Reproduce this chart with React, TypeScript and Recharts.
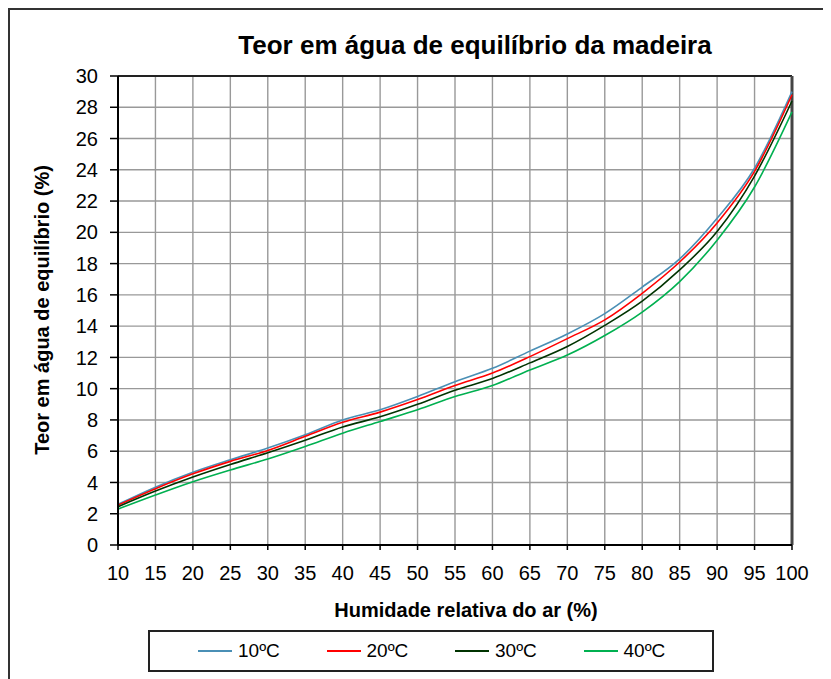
import React from 'react';
import { LineChart, Line, XAxis, YAxis, CartesianGrid, Legend, ReferenceLine } from 'recharts';

const humidity = [10, 15, 20, 25, 30, 35, 40, 45, 50, 55, 60, 65, 70, 75, 80, 85, 90, 95, 100];
const t10 = [2.6, 3.7, 4.65, 5.45, 6.2, 7.05, 8.0, 8.65, 9.5, 10.45, 11.3, 12.4, 13.5, 14.8, 16.5, 18.3, 20.9, 24.1, 29.0];
const t20 = [2.55, 3.6, 4.55, 5.35, 6.05, 6.95, 7.85, 8.5, 9.3, 10.2, 11.0, 12.05, 13.2, 14.4, 16.1, 18.1, 20.6, 23.9, 28.8];
const t30 = [2.45, 3.45, 4.35, 5.15, 5.9, 6.7, 7.55, 8.2, 9.0, 9.9, 10.65, 11.65, 12.7, 14.05, 15.6, 17.6, 20.05, 23.6, 28.4];
const t40 = [2.3, 3.2, 4.05, 4.8, 5.5, 6.3, 7.15, 7.9, 8.65, 9.5, 10.2, 11.2, 12.15, 13.4, 14.9, 16.85, 19.5, 22.9, 27.7];

const xTicks = [10, 15, 20, 25, 30, 35, 40, 45, 50, 55, 60, 65, 70, 75, 80, 85, 90, 95, 100];
const yTicks = [0, 2, 4, 6, 8, 10, 12, 14, 16, 18, 20, 22, 24, 26, 28, 30];

const series = [
  { key: 't10', name: '10ºC', color: '#4a8fb5', values: t10 },
  { key: 't20', name: '20ºC', color: '#ff0000', values: t20 },
  { key: 't30', name: '30ºC', color: '#003300', values: t30 },
  { key: 't40', name: '40ºC', color: '#00b050', values: t40 },
];

const data = humidity.map((h, i) => {
  const row: Record<string, number> = { h };
  series.forEach(s => { row[s.key] = s.values[i]; });
  return row;
});

const font = '"Liberation Sans", Arial, sans-serif';

const LegendBox = (props: any) => {
  const items = props.payload || [];
  return (
    <div style={{
      width: 566, height: 42, border: '2px solid #222', boxSizing: 'border-box',
      display: 'flex', alignItems: 'center', paddingLeft: 48, background: '#fff',
    }}>
      {items.map((it: any) => (
        <div key={it.value} style={{ width: 131, display: 'flex', alignItems: 'center' }}>
          <span style={{ width: 34, height: 2, background: it.color, display: 'inline-block' }} />
          <span style={{ marginLeft: 6, fontSize: 19, color: '#000', fontFamily: font }}>{it.value}</span>
        </div>
      ))}
    </div>
  );
};

export default function App() {
  return (
    <div style={{ position: 'relative', width: 840, height: 690, border: '2px solid #333', boxSizing: 'border-box', fontFamily: font, background: '#fff' }}>
      <style>{`body{overflow:hidden}`}</style>
      <div style={{ position: 'absolute', left: 0, top: 20, width: 930, textAlign: 'center', fontSize: 26, lineHeight: '30px', fontWeight: 'bold', color: '#000' }}>
        Teor em água de equilíbrio da madeira
      </div>
      <div style={{ position: 'absolute', left: 32, top: 300, transform: 'translate(-50%, -50%) rotate(-90deg)', whiteSpace: 'nowrap', fontSize: 20, fontWeight: 'bold', color: '#000' }}>
        Teor em água de equilíbrio  (%)
      </div>
      <div style={{ position: 'absolute', left: 0, top: 588, width: 912, textAlign: 'center', fontSize: 20, lineHeight: '24px', fontWeight: 'bold', color: '#000' }}>
        Humidade relativa do ar (%)
      </div>
      <LineChart width={820} height={670} data={data} margin={{ top: 66, right: 38, left: 48, bottom: 105 }}>
        <CartesianGrid stroke="#999" strokeWidth={1.4} />
        <XAxis
          type="number" dataKey="h" domain={[10, 100]} ticks={xTicks} interval={0}
          height={30} tickSize={5} tickMargin={16}
          axisLine={{ stroke: '#000', strokeWidth: 2 }} tickLine={{ stroke: '#000', strokeWidth: 1.5 }}
          tick={{ fill: '#000', fontSize: 20, fontFamily: font }}
        />
        <YAxis
          type="number" domain={[0, 30]} ticks={yTicks} interval={0} width={60}
          tickSize={8} tickMargin={12}
          axisLine={{ stroke: '#000', strokeWidth: 2 }} tickLine={{ stroke: '#000', strokeWidth: 1.5 }}
          tick={{ fill: '#000', fontSize: 20, fontFamily: font }}
        />
        <ReferenceLine y={30} stroke="#222" strokeWidth={2} />
        <ReferenceLine x={100} stroke="#444" strokeWidth={3} />
        {series.map(s => (
          <Line key={s.key} type="monotone" dataKey={s.key} name={s.name} stroke={s.color}
            strokeWidth={1.6} dot={false} activeDot={false} isAnimationActive={false} />
        ))}
        <Legend layout="horizontal" verticalAlign="middle" align="center" content={LegendBox}
          wrapperStyle={{ left: 138, top: 620, width: 566, height: 42 }} />
      </LineChart>
    </div>
  );
}
